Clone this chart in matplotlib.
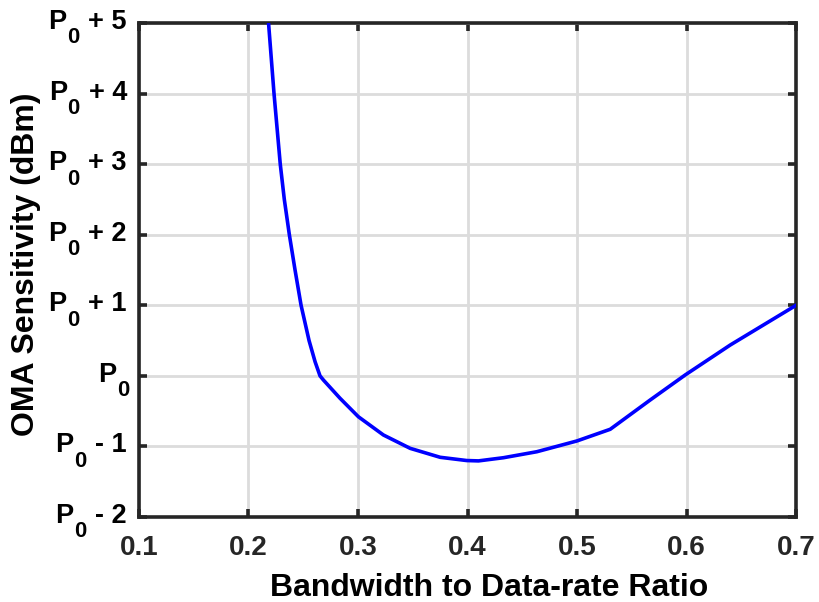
import numpy as np
import matplotlib
matplotlib.use("Agg")
import matplotlib.pyplot as plt

# ---------------------------------------------------------------------
# Data
# ---------------------------------------------------------------------

RATIO = [0.2183, 0.2208, 0.2233, 0.2290, 0.2327, 0.2373, 0.2425,
         0.2480, 0.2553, 0.2608, 0.2653, 0.2684, 0.2836, 0.3003,
         0.3232, 0.3476, 0.3750, 0.3993, 0.4100, 0.4328, 0.4633, 0.4998,
         0.5303, 0.5668, 0.5988, 0.6399, 0.7000]
SENSITIVITY = [5.0, 4.5, 4.0, 3.0, 2.5, 2.0, 1.5,
               1.0, 0.5, 0.2, 0.0, -0.059, -0.318, -0.579,
               -0.838, -1.027, -1.154, -1.200, -1.205, -1.160, -1.075, -0.923,
               -0.757, -0.342, 0.013, 0.437, 1.0]

X_TICKS = [0.1, 0.2, 0.3, 0.4, 0.5, 0.6, 0.7]
Y_TICKS = [-2, -1, 0, 1, 2, 3, 4, 5]
Y_TICK_SUFFIX = ["- 2", "- 1", "", "+ 1", "+ 2", "+ 3", "+ 4", "+ 5"]

# ---------------------------------------------------------------------
# Style
# ---------------------------------------------------------------------

plt.rcParams["font.family"] = ["Liberation Sans", "DejaVu Sans"]
plt.rcParams["font.weight"] = "bold"

AX_COLOR = "#262626"


def draw_y_labels(fig, ax):
    # "P" with a large, deeply lowered subscript "0", then "+ n"
    renderer = fig.canvas.get_renderer()
    trans = ax.get_yaxis_transform()
    x0 = ax.transAxes.transform((0, 0))[0]
    for v, suffix in zip(Y_TICKS, Y_TICK_SUFFIX):
        if suffix:
            t = ax.annotate(suffix, xy=(0, v), xycoords=trans,
                            xytext=(-12, -6), textcoords="offset pixels",
                            ha="right", va="baseline", fontsize=19.5,
                            fontweight="bold", color="black")
            bb = t.get_window_extent(renderer)
            right = (bb.x0 - x0) - 9
        else:
            right = -10
        s = ax.annotate("0", xy=(0, v), xycoords=trans,
                        xytext=(right, -20.5), textcoords="offset pixels",
                        ha="right", va="baseline", fontsize=15.8,
                        fontweight="bold", color="black")
        bb = s.get_window_extent(renderer)
        ax.annotate("P", xy=(0, v), xycoords=trans,
                    xytext=((bb.x0 - x0) - 0.5, -6),
                    textcoords="offset pixels", ha="right", va="baseline",
                    fontsize=19.5, fontweight="bold", color="black")


def plot_results():
    fig = plt.figure(figsize=(8.19, 6.02), dpi=100)
    ax = fig.add_axes([0.1697, 0.1412, 0.8023, 0.8206])

    ax.plot(RATIO, SENSITIVITY, color="#0000ff", linewidth=2.6,
            solid_joinstyle="round", zorder=3)

    ax.set_xlim(0.1, 0.7)
    ax.set_ylim(-2, 5)
    ax.set_xticks(X_TICKS)
    ax.set_xticklabels([f"{v:.1f}" for v in X_TICKS])
    ax.set_yticks(Y_TICKS)
    ax.set_yticklabels([])

    ax.grid(True, color="#dcdcdc", linewidth=2.0)
    ax.set_axisbelow(True)

    for spine in ax.spines.values():
        spine.set_linewidth(2.6)
        spine.set_color(AX_COLOR)

    ax.tick_params(direction="in", length=6, width=2.6, top=True, right=True,
                   colors=AX_COLOR)
    ax.tick_params(axis="x", pad=13, labelsize=20, labelcolor=AX_COLOR)

    ax.set_xlabel("Bandwidth to Data-rate Ratio", fontsize=23,
                  fontweight="bold")
    ax.xaxis.set_label_coords(0.533, -0.113)
    ax.set_ylabel("OMA Sensitivity (dBm)", fontsize=23,
                  fontweight="bold")
    ax.yaxis.set_label_coords(-0.149, 0.512)

    draw_y_labels(fig, ax)

    fig.savefig("out.png", dpi=100)


if __name__ == "__main__":
    plot_results()
